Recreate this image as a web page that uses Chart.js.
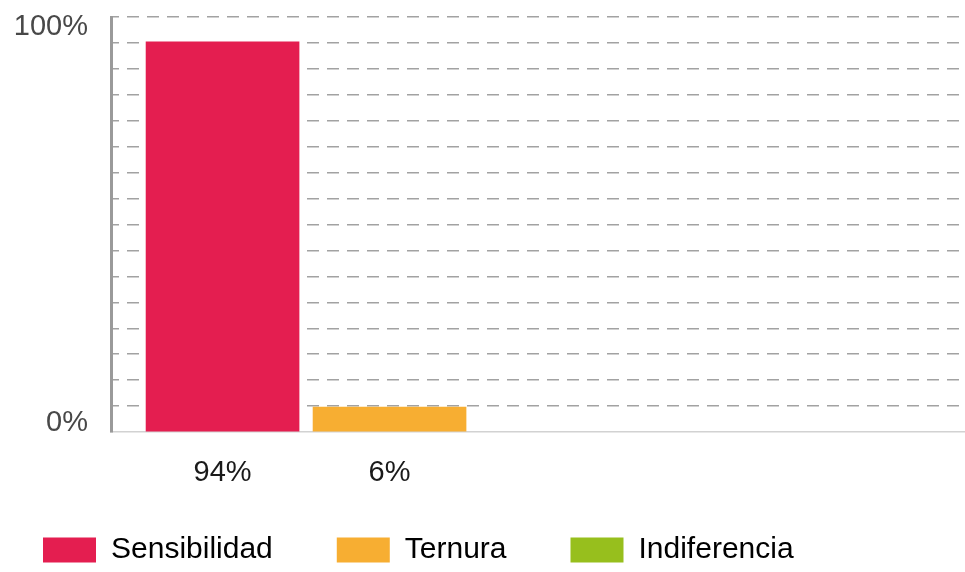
<!DOCTYPE html>
<html lang="es">
<head>
<meta charset="utf-8">
<title>Sensibilidad, ternura e indiferencia</title>
<script src="https://cdn.jsdelivr.net/npm/chart.js@4/dist/chart.umd.min.js"></script>
<style>
  html, body { margin: 0; padding: 0; background: #ffffff; }
  canvas { display: block; }
</style>
</head>
<body>
<canvas id="chart" width="965" height="572"></canvas>
<script>
// Survey answers, in percent of respondents
const categories = ['Sensibilidad', 'Ternura', 'Indiferencia'];
const shares = [94, 6, 0];

// Labels shown at the ends of the value axis
const yTickValues = [0, 100];
const yTickLabels = ['0%', '100%'];

const barColors = ['#e41e50', '#f7ae32', '#97bf1d'];
const FONT = '"Liberation Sans", Arial, sans-serif';

Chart.defaults.font.family = FONT;

// Captions: 0% / 100% just inside the ends of the value axis,
// and each answer's share printed under its bar
const axisCaptions = {
  id: 'axisCaptions',
  afterDraw(chart) {
    const xs = chart.scales.x;
    const ys = chart.scales.y;
    const area = chart.chartArea;
    const ctx = chart.ctx;
    ctx.save();
    ctx.font = '29px ' + FONT;
    ctx.textBaseline = 'middle';

    ctx.fillStyle = '#484848';
    ctx.textAlign = 'right';
    yTickValues.forEach((v, i) => {
      const inset = v === ys.max ? 10 : -9;
      ctx.fillText(yTickLabels[i], area.left - 23, ys.getPixelForValue(v) + inset);
    });

    ctx.fillStyle = '#1a1a1a';
    ctx.textAlign = 'center';
    shares.forEach((v, i) => {
      if (v > 0) ctx.fillText(v + '%', xs.getPixelForValue(i), area.bottom + 41);
    });
    ctx.restore();
  }
};

new Chart(document.getElementById('chart'), {
  type: 'bar',
  data: {
    datasets: [{
      data: shares.map((v, i) => ({ x: i, y: v > 0 ? v : null })),
      backgroundColor: barColors,
      borderWidth: 0,
      barThickness: 153
    }]
  },
  options: {
    responsive: false,
    animation: false,
    layout: { padding: { left: -21, top: 17, right: 0, bottom: -3 } },
    scales: {
      x: {
        type: 'linear',
        offset: false,
        min: -0.668,
        max: 4.446,
        grid: { display: false, drawTicks: false },
        border: { display: true, color: '#d2d2d2', width: 1.5 },
        ticks: { display: false, stepSize: 1 },
        afterFit: (scale) => { scale.height = 39; }
      },
      y: {
        min: 0,
        max: 100,
        grid: {
          drawTicks: false,
          lineWidth: 1.5,
          color: (ctx) => (ctx.tick && ctx.tick.value === 0 ? 'rgba(0,0,0,0)' : '#a2a2a2')
        },
        border: { display: true, color: '#9a9a9a', width: 3, dash: [12, 8], dashOffset: 6 },
        ticks: { display: false, stepSize: 6.25 },
        afterFit: (scale) => { scale.width = 132; }
      }
    },
    plugins: {
      tooltip: { enabled: false },
      legend: {
        position: 'bottom',
        align: 'start',
        labels: {
          boxWidth: 53,
          boxHeight: 25,
          padding: 64,
          color: '#1a1a1a',
          font: { size: 30 },
          generateLabels: () => categories.map((name, i) => ({
            text: name,
            fillStyle: barColors[i],
            strokeStyle: barColors[i],
            lineWidth: 0,
            hidden: false,
            index: i
          }))
        }
      }
    }
  },
  plugins: [axisCaptions]
});
</script>
</body>
</html>
